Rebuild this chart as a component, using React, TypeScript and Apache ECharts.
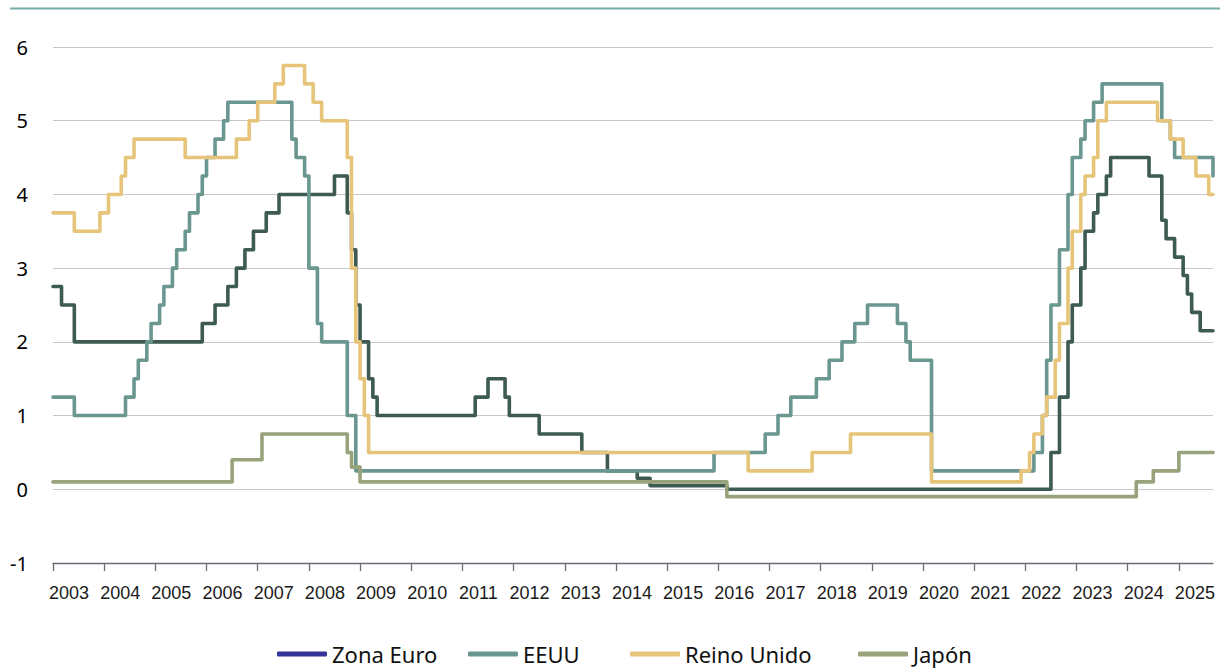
import React, { useEffect, useRef } from 'react';
import * as echarts from 'echarts';

// Names
const seriesNames = ['Zona Euro', 'EEUU', 'Reino Unido', 'Japón'];

// Zona Euro (month of change, rate)
const euroDates = ['2003-01','2003-03','2003-06','2005-12','2006-03','2006-06','2006-08','2006-10','2006-12','2007-03','2007-06','2008-07','2008-10','2008-11','2008-12','2009-01','2009-03','2009-04','2009-05','2011-04','2011-07','2011-11','2011-12','2012-07','2013-05','2013-11','2014-06','2014-09','2016-03','2022-07','2022-09','2022-11','2022-12','2023-02','2023-03','2023-05','2023-06','2023-08','2023-09','2024-06','2024-09','2024-10','2024-12','2025-02','2025-03','2025-04','2025-06','2025-09'];
const euroValues = [2.75,2.5,2.0,2.25,2.5,2.75,3.0,3.25,3.5,3.75,4.0,4.25,3.75,3.25,2.5,2.0,1.5,1.25,1.0,1.25,1.5,1.25,1.0,0.75,0.5,0.25,0.15,0.05,0.0,0.5,1.25,2.0,2.5,3.0,3.5,3.75,4.0,4.25,4.5,4.25,3.65,3.4,3.15,2.9,2.65,2.4,2.15,2.15];

// EEUU
const usDates = ['2003-01','2003-06','2004-06','2004-08','2004-09','2004-11','2004-12','2005-02','2005-03','2005-05','2005-06','2005-08','2005-09','2005-11','2005-12','2006-01','2006-03','2006-05','2006-06','2007-09','2007-10','2007-12','2008-01','2008-03','2008-04','2008-10','2008-12','2015-12','2016-12','2017-03','2017-06','2017-12','2018-03','2018-06','2018-09','2018-12','2019-07','2019-09','2019-10','2020-03','2022-03','2022-05','2022-06','2022-07','2022-09','2022-11','2022-12','2023-02','2023-03','2023-05','2023-07','2024-09','2024-11','2024-12','2025-09'];
const usValues = [1.25,1.0,1.25,1.5,1.75,2.0,2.25,2.5,2.75,3.0,3.25,3.5,3.75,4.0,4.25,4.5,4.75,5.0,5.25,4.75,4.5,4.25,3.0,2.25,2.0,1.0,0.25,0.5,0.75,1.0,1.25,1.5,1.75,2.0,2.25,2.5,2.25,2.0,1.75,0.25,0.5,1.0,1.75,2.5,3.25,4.0,4.5,4.75,5.0,5.25,5.5,5.0,4.75,4.5,4.25];

// Reino Unido
const ukDates = ['2003-01','2003-06','2003-12','2004-02','2004-05','2004-06','2004-08','2005-08','2006-08','2006-11','2007-01','2007-05','2007-07','2007-12','2008-02','2008-04','2008-10','2008-11','2008-12','2009-01','2009-02','2009-03','2016-08','2017-11','2018-08','2020-03','2021-12','2022-02','2022-03','2022-05','2022-06','2022-08','2022-09','2022-11','2022-12','2023-02','2023-03','2023-05','2023-06','2023-08','2024-08','2024-11','2025-02','2025-05','2025-08','2025-09'];
const ukValues = [3.75,3.5,3.75,4.0,4.25,4.5,4.75,4.5,4.75,5.0,5.25,5.5,5.75,5.5,5.25,5.0,4.5,3.0,2.0,1.5,1.0,0.5,0.25,0.5,0.75,0.1,0.25,0.5,0.75,1.0,1.25,1.75,2.25,3.0,3.5,4.0,4.25,4.5,5.0,5.25,5.0,4.75,4.5,4.25,4.0,4.0];

// Japón
const jpDates = ['2003-01','2006-07','2007-02','2008-10','2008-11','2009-01','2016-03','2024-03','2024-07','2025-01','2025-09'];
const jpValues = [0.1,0.4,0.75,0.5,0.3,0.1,-0.1,0.1,0.25,0.5,0.5];

// Axis ticks
const yearTicks = [2003,2004,2005,2006,2007,2008,2009,2010,2011,2012,2013,2014,2015,2016,2017,2018,2019,2020,2021,2022,2023,2024,2025];
const xStart = '2003-01';
const xEnd = '2025-09';

const lineColors = ['#3d5b53', '#6a978f', '#e6c57a', '#98a37c'];
const legendColors = ['#33339a', '#6a978f', '#e6c57a', '#98a37c'];
const legendLefts = [277, 468, 630, 858];

// 'YYYY-MM' -> fractional year (start of month)
const toYear = (ym: string) => {
  const [y, m] = ym.split('-').map(Number);
  return y + (m - 1) / 12;
};
const pairs = (d: string[], v: number[]) => d.map((x, i) => [toYear(x), v[i]]);

export default function App() {
  const ref = useRef<HTMLDivElement>(null);
  useEffect(() => {
    if (!ref.current) return;
    const chart = echarts.init(ref.current, undefined, { renderer: 'svg' });
    const data = [
      pairs(euroDates, euroValues),
      pairs(usDates, usValues),
      pairs(ukDates, ukValues),
      pairs(jpDates, jpValues),
    ];
    chart.setOption({
      animation: false,
      backgroundColor: '#ffffff',
      grid: { left: 53, right: 15, top: 47, bottom: 105 },
      graphic: [
        {
          type: 'line',
          shape: { x1: 10, y1: 8.5, x2: 1220, y2: 8.5 },
          style: { stroke: '#76aea7', lineWidth: 2 },
        },
      ],
      legend: seriesNames.map((n, i) => ({
        data: [{ name: n, itemStyle: { color: legendColors[i], borderWidth: 0 } }],
        left: legendLefts[i],
        top: 643,
        padding: 0,
        icon: 'roundRect',
        itemWidth: 50,
        itemHeight: 5,
        itemStyle: { borderWidth: 0 },
        selectedMode: false,
        textStyle: { fontFamily: 'Noto Sans', fontSize: 22, lineHeight: 22, color: '#111111' },
      })),
      xAxis: {
        type: 'value',
        min: toYear(xStart),
        max: toYear(xEnd),
        axisLine: { onZero: false, lineStyle: { color: '#6b6b78', width: 1.3 } },
        axisTick: { show: true, length: 8, customValues: yearTicks, lineStyle: { color: '#6b6b78', width: 1.3 } },
        axisLabel: {
          customValues: yearTicks,
          formatter: (v: number) => String(Math.round(v)),
          fontFamily: 'Liberation Sans',
          fontSize: 18,
          color: '#1a1a1a',
          margin: 21,
          align: 'center',
          padding: [0, 0, 0, 32],
        },
        splitLine: { show: false },
      },
      yAxis: {
        type: 'value',
        min: -1,
        max: 6,
        interval: 1,
        axisLine: { show: false },
        axisTick: { show: false },
        axisLabel: { fontFamily: 'Noto Sans', fontSize: 20, color: '#000000', margin: 25 },
        splitLine: { lineStyle: { color: '#c8c8c8', width: 1.2 } },
      },
      series: seriesNames.map((n, i) => ({
        name: n,
        type: 'line',
        step: 'end',
        symbol: 'none',
        data: data[i],
        lineStyle: { color: lineColors[i], width: 3.6, cap: 'round', join: 'round' },
        itemStyle: { color: lineColors[i] },
      })),
    });
    return () => chart.dispose();
  }, []);
  return (
    <div
      ref={ref}
      style={{ position: 'fixed', left: 0, top: 0, width: 1228, height: 668 }}
    />
  );
}
